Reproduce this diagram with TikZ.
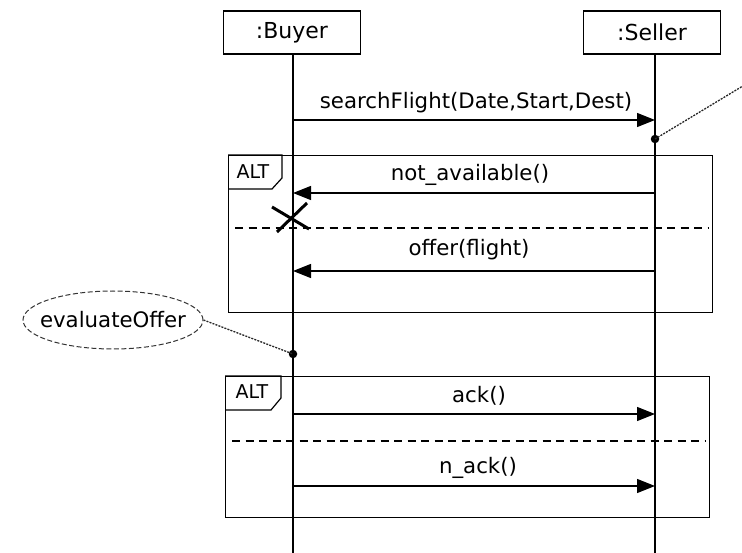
\documentclass[tikz,border=0pt]{standalone}
\usepackage{fontspec}
\setmainfont{DejaVu Sans}
\usetikzlibrary{arrows.meta,shapes.geometric}
\begin{document}
\begin{tikzpicture}[x=1pt,y=-1pt,
  txt/.style={font=\fontsize{21.3}{25}\selectfont, inner sep=0pt},
  obj/.style={draw, line width=1.2pt, minimum width=137pt, minimum height=43pt, inner sep=0pt, font=\fontsize{22}{26}\selectfont},
  life/.style={line width=1.2pt},
  msg/.style={line width=1.2pt, -{Triangle[length=18pt,width=14pt]}},
  frame/.style={draw, line width=1.2pt, anchor=north west, inner sep=0pt},
  altlbl/.style={font=\fontsize{19}{21}\selectfont, inner sep=0pt},
  sep/.style={line width=1.2pt, dash pattern=on 8pt off 5.5pt},
  notelink/.style={line width=1.3pt, dash pattern=on 2pt off 1.2pt, black!85},
  dotmark/.style={circle, fill=black, inner sep=0pt, minimum size=8.5pt},
  destroy/.style={line width=3pt},
  evalnote/.style={ellipse, draw, line width=1pt, black!80, dash pattern=on 5pt off 2.5pt, minimum width=180pt, minimum height=58pt, inner sep=0pt},
]
\useasboundingbox (0,0) rectangle (742,553);

% lifeline heads
\node[obj] (buyer) at (292,32.5) {:Buyer};
\node[obj] (seller) at (652,32.5) {:Seller};

% lifelines
\coordinate (bEnd) at (293,553);
\coordinate (sEnd) at (655,553);
\draw[life] (buyer.south -| bEnd) -- (bEnd);
\draw[life] (seller.south -| sEnd) -- (sEnd);

% searchFlight
\coordinate (b1) at (293,120);
\coordinate (s1) at (655,120);
\draw[msg] (b1) -- (s1);
\node[txt] (t1) at (476,103) {searchFlight(Date,Start,Dest)};

% note link at seller
\node[dotmark] (dot1) at (655,139) {};
\coordinate (noteEnd) at (742,86.5);
\draw[notelink] (dot1.center) -- (noteEnd);

% ALT 1
\node[frame, minimum width=484pt, minimum height=157pt] (alt1) at (228,155) {};
\draw[line width=1.2pt] (alt1.north west) -- ++(54,0) -- ++(0,23) -- ++(-10,11) -- ++(-44,0);
\node[altlbl] (alt1lbl) at (253,172) {ALT};

\coordinate (s2) at (655,193);
\coordinate (b2) at (293,193);
\draw[msg] (s2) -- (b2);
\node[txt] (t2) at (470,175) {not\_available()};

\coordinate (xm) at (292,217);
\draw[destroy] (xm) ++(-20,-10) -- ++(37,22);
\draw[destroy] (xm) ++(15,-14) -- ++(-30,29);

\coordinate (sep1a) at (235,228);
\coordinate (sep1b) at (708,228);
\draw[sep] (sep1a) -- (sep1b);

\coordinate (s3) at (655,271);
\coordinate (b3) at (293,271);
\draw[msg] (s3) -- (b3);
\node[txt] (t3) at (469,250) {offer(flight)};

% evaluateOffer note
\node[evalnote] (eval) at (113,320) {};
\node[txt] (evaltxt) at (eval.center) {evaluateOffer};
\node[dotmark] (dot2) at (293,354) {};
\draw[notelink] (eval.east) -- (dot2.center);

% ALT 2
\node[frame, minimum width=484pt, minimum height=141pt] (alt2) at (225,376) {};
\draw[line width=1.2pt] (alt2.north west) -- ++(56,0) -- ++(0,22) -- ++(-10,12) -- ++(-46,0);
\node[altlbl] (alt2lbl) at (252,392) {ALT};

\coordinate (b4) at (293,414);
\coordinate (s4) at (655,414);
\draw[msg] (b4) -- (s4);
\node[txt] (t4) at (479,396) {ack()};

\coordinate (sep2a) at (232,441);
\coordinate (sep2b) at (705,441);
\draw[sep] (sep2a) -- (sep2b);

\coordinate (b5) at (293,486);
\coordinate (s5) at (655,486);
\draw[msg] (b5) -- (s5);
\node[txt] (t5) at (478,468) {n\_ack()};
\end{tikzpicture}
\end{document}
